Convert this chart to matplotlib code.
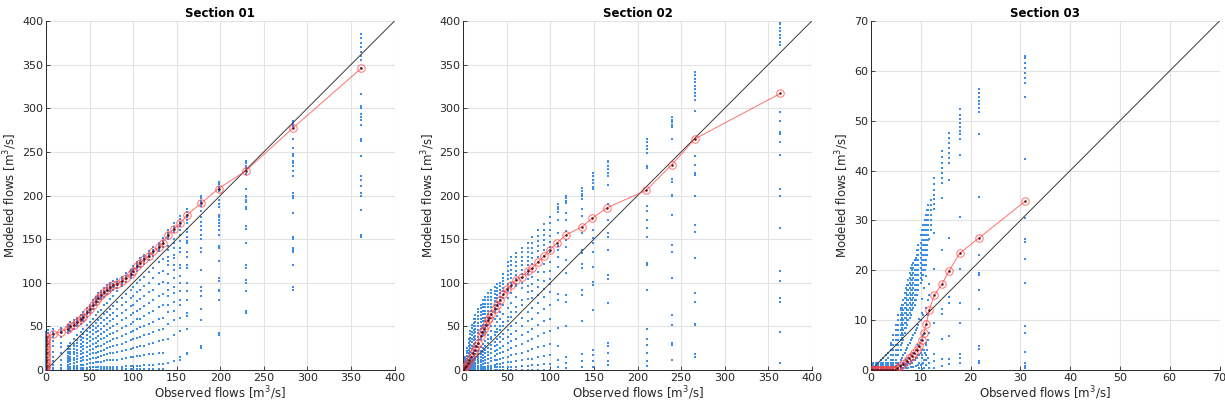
import matplotlib
matplotlib.use("Agg")
import matplotlib.pyplot as plt

# ---------------- Section 01 ----------------
s1_obs = [0, 2, 8, 17, 25, 28, 32, 36, 40, 43, 47, 50, 54, 57, 60, 63, 67, 70, 74, 77,
          82, 87, 92, 97, 100, 105, 108, 113, 118, 123, 130, 134, 140, 147, 154, 162,
          178, 198, 229, 283, 362]
s1_sim = [
    [0, 2, 4, 6, 8, 10, 12, 14, 16, 18, 20, 22, 24, 26, 28, 30, 32, 34, 36, 38, 40, 42, 44],
    [0, 5, 12, 20, 30, 38, 42, 46],
    [0, 2, 6, 10, 15, 21, 27, 33, 38, 41, 44, 47],
    [0, 2, 6, 11, 19, 26, 31, 38, 42, 44, 46, 48],
    [0, 1, 4, 6, 9, 11, 14, 16, 19, 21, 24, 28, 42, 45, 47, 49, 52],
    [0, 1, 4, 7, 10, 13, 15, 18, 21, 24, 27, 31, 45, 48, 50, 52, 55],
    [0, 2, 5, 8, 11, 14, 18, 21, 24, 27, 30, 35, 47, 50, 52, 54, 57],
    [0, 2, 5, 9, 13, 16, 20, 23, 27, 31, 34, 40, 50, 53, 55, 57, 60],
    [0, 2, 6, 10, 14, 18, 22, 26, 30, 34, 38, 44, 53, 56, 58, 60, 63],
    [0, 2, 6, 11, 15, 19, 24, 28, 32, 37, 41, 47, 56, 59, 61, 63, 66],
    [0, 2, 7, 12, 16, 21, 26, 31, 35, 40, 45, 52, 61, 64, 66, 68, 71],
    [0, 3, 8, 13, 18, 23, 28, 33, 38, 43, 48, 55, 65, 68, 70, 72, 75],
    [0, 3, 8, 14, 19, 24, 30, 35, 41, 46, 51, 59, 70, 73, 75, 77, 80],
    [0, 3, 9, 14, 20, 26, 31, 37, 43, 48, 54, 63, 74, 77, 79, 81, 84],
    [0, 3, 9, 15, 21, 27, 33, 39, 45, 51, 57, 66, 78, 81, 83, 85, 88],
    [1, 3, 9, 16, 22, 28, 35, 41, 47, 54, 60, 69, 81, 84, 86, 88, 91],
    [1, 3, 10, 17, 23, 30, 37, 44, 50, 57, 64, 74, 84, 87, 89, 91, 94],
    [1, 4, 11, 18, 25, 32, 39, 46, 53, 60, 67, 77, 87, 90, 92, 94, 97],
    [1, 4, 11, 19, 26, 33, 41, 48, 56, 63, 70, 81, 90, 93, 95, 97, 100],
    [1, 4, 12, 19, 27, 35, 42, 50, 58, 65, 73, 85, 92, 95, 97, 99, 102],
    [1, 4, 12, 21, 29, 37, 45, 53, 62, 70, 78, 90, 94, 97, 99, 101, 104],
    [1, 4, 13, 22, 30, 39, 48, 57, 65, 74, 83, 96, 97, 100, 102, 104, 107],
    [1, 5, 14, 23, 32, 41, 51, 60, 69, 78, 87, 101, 104, 106, 108, 111],
    [1, 5, 15, 24, 34, 44, 53, 63, 73, 82, 92, 105, 108, 110, 112, 115],
    [1, 5, 15, 25, 35, 45, 55, 65, 75, 85, 95, 109, 112, 114, 116, 119],
    [1, 5, 16, 26, 37, 47, 58, 68, 79, 89, 100, 114, 117, 119, 121, 124],
    [1, 5, 16, 27, 38, 49, 59, 70, 81, 92, 103, 118, 121, 123, 125, 128],
    [1, 6, 17, 28, 40, 51, 62, 73, 85, 96, 107, 122, 125, 127, 129, 132],
    [1, 6, 18, 30, 41, 53, 65, 77, 89, 100, 112, 126, 129, 131, 133, 136],
    [1, 6, 18, 31, 43, 55, 68, 80, 92, 105, 117, 131, 134, 136, 138, 141],
    [1, 7, 20, 33, 46, 59, 72, 85, 98, 111, 124, 136, 139, 141, 143, 146],
    [1, 7, 20, 34, 47, 60, 74, 87, 101, 114, 127, 141, 144, 146, 148, 151],
    [8, 35, 53, 67, 75, 85, 92, 100, 110, 120, 125, 130, 137, 142, 150, 153, 155, 157, 160],
    [10, 40, 57, 68, 78, 88, 95, 105, 115, 120, 128, 132, 140, 145, 150, 158, 160, 162, 164, 168],
    [12, 15, 45, 60, 75, 80, 90, 100, 108, 117, 120, 135, 140, 148, 155, 160, 165, 168, 170, 173, 177],
    [18, 20, 47, 62, 65, 80, 90, 100, 117, 120, 130, 135, 145, 148, 152, 158, 162, 168, 172, 175,
     178, 181, 185],
    [25, 28, 57, 70, 85, 90, 95, 115, 135, 140, 150, 155, 160, 165, 170, 175, 182, 188, 191, 194,
     197, 200],
    [40, 42, 80, 90, 92, 102, 105, 125, 140, 142, 155, 160, 165, 168, 172, 175, 178, 187, 190, 195,
     205, 208, 210, 213, 216],
    [65, 68, 90, 100, 103, 117, 120, 145, 162, 165, 185, 187, 193, 195, 198, 200, 207, 225, 228,
     231, 234, 237, 240],
    [92, 95, 120, 135, 137, 140, 150, 152, 180, 197, 200, 203, 222, 228, 234, 237, 240, 245, 247,
     255, 265, 277, 279, 281, 283, 285],
    [153, 155, 183, 200, 203, 211, 218, 222, 245, 262, 265, 281, 287, 290, 293, 300, 303, 316, 346,
     355, 360, 365, 370, 375, 380, 385],
]
s1_red_x = [0, 0, 0, 0, 0, 0, 0, 0, 0, 0, 0, 0, 0, 0,
            8, 17, 25, 28, 32, 36, 40, 43, 47, 50, 54, 57, 60, 63, 67, 70, 74, 77, 82, 87, 92,
            97, 100, 105, 108, 113, 118, 123, 130, 134, 140, 147, 154, 162, 178, 198, 229, 283, 362]
s1_red_y = [0, 3, 6, 9, 12, 15, 18, 21, 24, 27, 30, 33, 36, 38,
            41, 44, 47, 50, 52, 55, 58, 61, 66, 70, 75, 79, 83, 86, 89, 92, 95, 97, 99, 102, 106,
            110, 114, 119, 123, 127, 131, 136, 141, 146, 155, 162, 168, 178, 191, 208, 228, 277, 346]

# ---------------- Section 02 ----------------
s2_obs = [2, 4, 6, 8, 10, 12, 14, 17, 20, 23, 25, 28, 32, 36, 39, 42, 46, 51, 55, 60, 67, 74,
          79, 86, 93, 99, 108.5, 118, 135.8, 148.4, 165.7, 211, 239, 266.5, 364]
s2_sim = [
    [0, 1, 2, 3, 5, 7, 9, 11, 13, 15],
    [0, 1, 2, 3, 4, 6, 8, 10, 13, 16, 19, 22, 25],
    [0, 1, 2, 3, 4, 5, 7, 9, 12, 15, 19, 23, 27, 31, 35],
    [0, 1, 2, 3, 5, 7, 10, 13, 17, 21, 25, 29, 33, 37, 41, 45],
    [0, 1, 2, 3, 5, 7, 9, 12, 15, 20, 24, 28, 32, 36, 40, 44, 48, 52],
    [0, 1, 2, 4, 5, 7, 9, 11, 13, 16, 22, 26, 30, 34, 38, 42, 46, 50, 54, 58],
    [0, 1, 2, 4, 6, 8, 11, 13, 15, 18, 22, 27, 31, 35, 39, 43, 47, 51, 55, 59, 63],
    [0, 1, 3, 5, 8, 10, 13, 15, 18, 22, 26, 30, 34, 38, 42, 46, 50, 54, 58, 62, 66, 70],
    [0, 1, 3, 6, 9, 12, 15, 18, 22, 26, 35, 39, 43, 47, 51, 55, 59, 63, 67, 71, 75],
    [0, 2, 4, 7, 10, 14, 17, 21, 25, 30, 40, 44, 48, 52, 56, 60, 64, 68, 72, 76, 80],
    [0, 2, 4, 8, 11, 15, 19, 23, 28, 33, 44, 48, 52, 56, 60, 64, 68, 72, 76, 80, 84],
    [0, 2, 5, 8, 13, 17, 21, 25, 31, 36, 40, 52, 56, 60, 64, 68, 72, 76, 80, 84, 88],
    [0, 2, 5, 10, 14, 19, 24, 29, 35, 38, 45, 51, 60, 64, 68, 72, 76, 80, 84, 88, 92],
    [0, 3, 6, 11, 16, 22, 27, 32, 40, 43, 50, 58, 67, 71, 75, 79, 83, 87, 91, 95],
    [0, 3, 7, 12, 18, 23, 29, 35, 43, 47, 55, 62, 70, 74, 78, 82, 86, 90, 94, 98],
    [0, 3, 7, 13, 19, 25, 32, 38, 46, 50, 59, 67, 76, 80, 84, 88, 92, 96, 100],
    [0, 3, 8, 14, 21, 28, 35, 41, 51, 55, 64, 74, 82, 86, 90, 94, 98, 102, 106, 110],
    [0, 4, 9, 15, 23, 31, 38, 46, 56, 61, 71, 82, 90, 94, 99, 104, 109, 114, 119, 124],
    [0, 4, 9, 17, 25, 33, 41, 50, 61, 66, 77, 88, 95, 100, 105, 110, 115, 120, 125, 130],
    [0, 4, 10, 18, 27, 36, 45, 54, 66, 72, 84, 96, 99, 104, 109, 114, 119, 124, 129, 134],
    [0, 5, 11, 20, 30, 40, 50, 60, 74, 80, 94, 100, 105, 110, 115, 120, 125, 130, 135, 140],
    [0, 5, 13, 22, 33, 44, 56, 67, 81, 89, 96, 104, 110, 115, 120, 125, 130, 135, 140, 146],
    [0, 6, 13, 24, 36, 47, 59, 71, 83, 91, 99, 107, 116, 122, 128, 134, 140, 146, 152],
    [0, 6, 15, 26, 39, 52, 65, 77, 86, 95, 103, 112, 124, 130, 136, 142, 148, 154, 160],
    [0, 7, 16, 28, 42, 56, 70, 84, 93, 102, 112, 121, 131, 137, 143, 149, 155, 161, 167],
    [0, 7, 17, 30, 45, 59, 74, 89, 99, 104, 114, 124, 135, 141, 147, 154, 161, 168, 175],
    [4, 11, 27, 48, 80, 87, 118, 130, 138, 142, 157, 172, 181, 184, 187, 190],
    [2, 8, 15, 50, 78, 86, 111, 126, 141, 149, 159, 172, 180, 191, 194, 197, 200],
    [4, 10, 18, 56, 86, 92, 117, 121, 134, 138, 157, 176, 184, 196, 199, 202, 205, 209],
    [4, 10, 17, 23, 69, 97, 101, 118, 135, 145, 151, 161, 207, 210, 214, 218, 222, 226],
    [6, 10, 19, 27, 31, 77, 104, 109, 137, 152, 157, 172, 190, 212, 222, 226, 230, 234, 238, 240],
    [5, 10, 19, 29, 35, 47, 92, 120, 123, 152, 163, 172, 182, 188, 231, 234, 249, 253, 257, 261, 265],
    [11, 29, 31, 52, 63, 106, 135, 143, 178, 199, 201, 215, 219, 265, 278, 281, 284, 287, 290],
    [15, 18, 52, 53, 78, 88, 128, 158, 166, 200, 224, 226, 235, 245, 297, 310, 314, 318, 322, 326,
     330, 334, 338, 342],
    [8, 43, 78, 82, 102, 113, 163, 199, 207, 246, 261, 271, 273, 285, 296, 372, 376, 380, 384, 388,
     392, 396, 398],
]
s2_red_x = [0, 1, 2, 3, 5, 7, 9, 11, 13, 15, 17, 20, 22, 24, 26, 28, 30, 32, 36, 39, 42, 46, 50,
            55, 60, 67, 74, 79, 86, 93, 99, 108, 118, 136, 148, 165, 210, 239, 266, 364]
s2_red_y = [0, 1, 3, 5, 8, 12, 15, 19, 23, 27, 31, 39, 44, 47, 52, 57, 60, 64, 70, 75, 80, 87, 93,
            97, 103, 107, 113, 117, 124, 131, 138, 146, 155, 164, 174, 186, 206, 235, 265, 317]

# ---------------- Section 03 ----------------
s3_obs = [0.5, 1, 1.5, 2, 2.5, 3, 3.5, 4, 4.5, 5, 5.5, 6, 6.5, 7, 7.5, 8, 8.5, 9, 9.5, 9.7, 10,
          10.2, 10.5, 10.6, 11, 11.1, 11.5, 11.7, 12, 12.7, 14.3, 15.7, 17.8, 21.6, 30.9,
          # in-between flows of the dense rising band
          6.25, 6.75, 7.25, 7.75, 8.25, 8.75, 9.25, 10.25, 10.75, 11.25]
s3_sim = [
    [0, 0.4, 0.8, 1.2, 1.5],
    [0, 0.4, 0.8, 1.2, 1.5],
    [0, 0.4, 0.8, 1.2, 1.5],
    [0, 0.4, 0.8, 1.2, 1.5, 2],
    [0, 0.4, 0.8, 1.2, 1.5, 2.5],
    [0, 0.4, 0.8, 1.2, 1.5, 2, 3],
    [0, 0.4, 0.8, 1.2, 1.5, 2.5, 3.5],
    [0, 0.4, 0.8, 1.2, 1.5, 2, 3, 4, 5, 5.5],
    [0, 0.4, 0.8, 1.2, 1.5, 2, 3, 4, 5, 6, 7],
    [0, 0.4, 0.8, 1.5, 2, 3, 4, 5, 6, 7, 8, 9],
    [0.2, 0.5, 1, 1.5, 3, 4, 5, 6, 7, 8, 9, 10, 11],
    [0.3, 0.7, 1, 2, 4, 5, 6, 7, 8, 9, 10, 11, 12, 12.5],
    [0.4, 1, 1.5, 3, 6, 7, 8, 9, 10, 11, 12, 13, 14],
    [0.5, 1.2, 2, 4, 8.5, 9.5, 10.5, 11.5, 12.5, 13.5, 14.5, 15.5, 16.5],
    [0.5, 1.5, 2.5, 5, 10, 11, 12, 13, 14, 15, 16, 17, 18],
    [0.6, 1.8, 3, 6, 11, 12, 13, 14, 15, 16, 17, 18, 19, 20.5],
    [0.7, 2, 3.5, 7, 12.5, 13.5, 14.5, 15.5, 16.5, 17.5, 18.5, 19.5, 20.5, 21.5],
    [0.8, 2.5, 4, 8, 14, 15, 16, 17, 18, 19, 20, 21, 22, 22.5],
    [1, 3, 5, 9, 16, 17, 18, 19, 20, 21, 22, 23, 24, 25],
    [0.5, 1.5, 3, 10.2],
    [1, 3.5, 6, 10, 17.5, 18.5, 19.5, 20.5, 21.5, 22.5, 23.5, 24.5, 25.5, 27],
    [0.3, 1.2, 2.5, 11.5, 14.2],
    [1.5, 4, 7, 11, 19, 20, 21, 22, 23, 24, 25, 26, 27, 28, 29],
    [0.5, 2, 4, 16.5],
    [2, 5, 9, 12.5, 21, 22, 23, 24, 25, 26, 27, 28, 29, 30, 31],
    [1, 3, 5.5, 18.9, 24],
    [2.5, 6, 11, 14, 26, 27, 28, 29, 30, 31, 32, 33],
    [0.5, 1.5, 7.5, 15, 17.2, 26.2],
    [28, 29, 30, 31, 32, 33, 34],
    [0.5, 1.9, 3.2, 9.5, 20.3, 27.5, 32.2, 33.2, 34.2, 35.2, 36.2, 37.3, 38.5],
    [0.9, 2.2, 6.2, 11.2, 12.2, 24, 34.5, 37.6, 38.6, 39.6, 40.6, 41.6, 42.8, 43.9],
    [1.2, 2.2, 6.9, 13.5, 14.6, 26.5, 38.2, 41.6, 42.6, 43.6, 44.6, 45.6, 46.6, 47.6],
    [1.5, 2.5, 3.2, 9.4, 13.4, 20.2, 30.6, 43.2, 46.4, 47.3, 48, 48.8, 49.6, 50.4, 51.2, 52.3],
    [1.5, 1.9, 4.2, 4.9, 12.2, 16, 19, 19.5, 23, 34.6, 47.3, 51.8, 52.5, 53.3, 54, 54.8, 55.5, 56.3],
    [0.5, 0.9, 1.5, 3.7, 7.5, 8.9, 17.4, 22.2, 25.6, 26.2, 30.5, 42.4, 54.7, 57.6, 58.5, 59.5, 60.5,
     61.5, 62.5, 63],
    [0.5, 2.5, 5.5, 6.5, 7.5, 8.5, 9.5, 10.5, 11.5, 12.5, 13],
    [0.8, 3.5, 7.5, 8.5, 9.5, 10.5, 11.5, 12.5, 13.5, 14.5, 15.5],
    [1, 4.5, 9, 10, 11, 12, 13, 14, 15, 16, 17],
    [1.2, 5.5, 10.5, 11.5, 12.5, 13.5, 14.5, 15.5, 16.5, 17.5, 18.5, 19.5],
    [1.5, 6.5, 12, 13, 14, 15, 16, 17, 18, 19, 20, 21],
    [2, 7.5, 13, 14, 15, 16, 17, 18, 19, 20, 21, 22],
    [2.5, 8.5, 15, 16, 17, 18, 19, 20, 21, 22, 23, 24],
    [3, 18, 19, 20, 21, 22, 23, 24, 25, 26, 27, 28],
    [3.5, 20, 21, 22, 23, 24, 25, 26, 27, 28, 29, 30],
    [4, 23, 24, 25, 26, 27, 28, 29, 30, 31, 32],
]
s3_red_x = [0, 0.3, 0.6, 0.9, 1.2, 1.5, 1.8, 2.1, 2.4, 2.7, 3, 3.3, 3.6, 3.9, 4.2, 4.5, 4.8,
            5.2, 5.8, 6.5, 7.2, 7.7, 8.2, 8.7, 9.2, 9.7, 10.2, 10.6, 11.1, 11.7, 12.7, 14.3,
            15.7, 17.8, 21.6, 30.9]
s3_red_y = [0, 0, 0, 0, 0, 0, 0, 0, 0, 0, 0, 0, 0, 0, 0, 0, 0,
            0.5, 0.9, 1.3, 1.9, 2.4, 2.9, 3.5, 4.0, 4.9, 6.0, 7.4, 9.3, 12.0, 15.0, 17.3,
            19.9, 23.4, 26.4, 33.8]

panels = [
    ("Section 01", s1_obs, s1_sim, s1_red_x, s1_red_y, 400, 50),
    ("Section 02", s2_obs, s2_sim, s2_red_x, s2_red_y, 400, 50),
    ("Section 03", s3_obs, s3_sim, s3_red_x, s3_red_y, 70, 10),
]
lefts = [46 / 1225, 463.3 / 1225, 871 / 1225]

BLUE = "#3a8ee8"
RED = "#ff4040"
DARK = "#262626"

plt.rcParams["font.family"] = "DejaVu Sans"

fig = plt.figure(figsize=(12.25, 4.09), dpi=100)

for (title, obs, sim, rx, ry, top, step), left in zip(panels, lefts):
    ax = fig.add_axes([left, 39 / 409, 348.5 / 1225, 349 / 409])
    xs, ys = [], []
    for x, col in zip(obs, sim):
        xs.extend([x] * len(col))
        ys.extend(col)
    ax.scatter(xs, ys, s=2.4, marker="s", color=BLUE, linewidths=0, zorder=2, clip_on=False)
    ax.plot([0, top], [0, top], color="#3a3a3a", lw=0.7, zorder=3)
    ax.plot(rx, ry, color=RED, lw=0.7, alpha=0.75, marker="o", ms=5.4, mfc="none",
            mec=RED, mew=0.7, zorder=4)
    ax.plot(rx, ry, ls="none", marker="o", ms=0.8, color="#5a1010", zorder=5)

    ax.set_xlim(0, top)
    ax.set_ylim(0, top)
    ticks = list(range(0, top + 1, step))
    ax.set_xticks(ticks)
    ax.set_yticks(ticks)
    ax.grid(True, color="#e3e3e3", lw=0.8)
    ax.set_axisbelow(True)
    for side in ("top", "right"):
        ax.spines[side].set_visible(False)
    for side in ("left", "bottom"):
        ax.spines[side].set_color(DARK)
        ax.spines[side].set_linewidth(0.7)
    ax.tick_params(direction="in", length=3, width=0.6, colors=DARK, labelsize=8, pad=2)
    ax.set_title(title, fontsize=8.5, fontweight="bold", pad=3)
    ax.set_xlabel("Observed flows [m$^3$/s]", fontsize=8.5, color=DARK, labelpad=1)
    ax.set_ylabel("Modeled flows [m$^3$/s]", fontsize=8.5, color=DARK, labelpad=2)

fig.savefig("out.png", dpi=100)
